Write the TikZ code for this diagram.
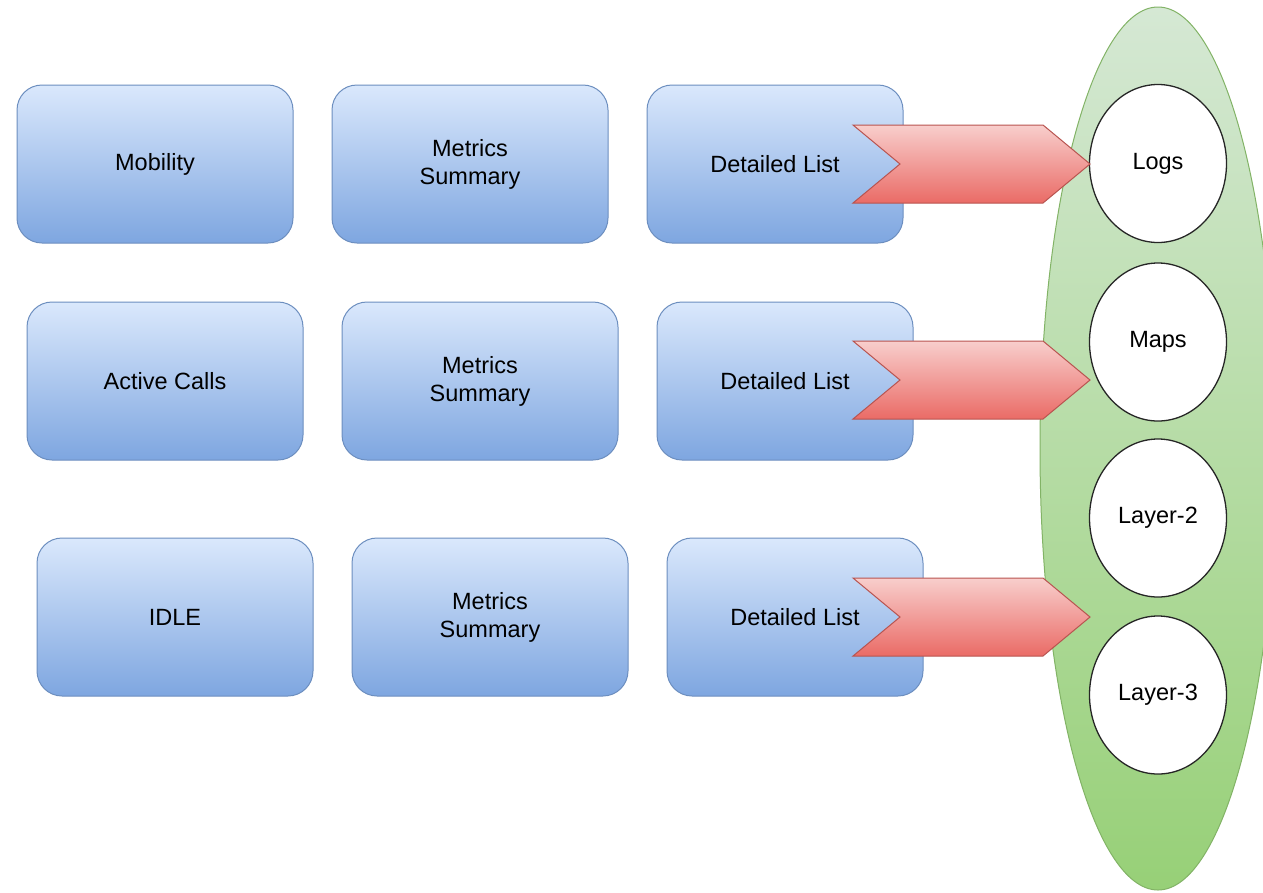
\documentclass[tikz,border=0pt]{standalone}
\usepackage{fontspec}
\setmainfont{Liberation Sans}
\usetikzlibrary{shapes.geometric}
\definecolor{boxtop}{HTML}{DAE8FC}
\definecolor{boxbot}{HTML}{7EA6E0}
\definecolor{boxline}{HTML}{6C8EBF}
\definecolor{arrtop}{HTML}{F8CECC}
\definecolor{arrbot}{HTML}{EA6B66}
\definecolor{arrline}{HTML}{B85450}
\definecolor{elltop}{HTML}{D5E8D4}
\definecolor{ellbot}{HTML}{97D077}
\definecolor{ellline}{HTML}{82B366}
\begin{document}
\begin{tikzpicture}[x=1pt,y=-1pt,
  txt/.style={font=\fontsize{23.5}{28}\selectfont, align=center},
  box/.style={txt, draw=boxline, line width=1pt, rounded corners=25pt,
    top color=boxtop, bottom color=boxbot, minimum width=276pt,
    minimum height=158pt, inner sep=0pt},
  dlbox/.style={box, minimum width=256pt},
  bigell/.style={ellipse, draw=ellline, line width=1pt, top color=elltop,
    bottom color=ellbot, minimum width=236pt, minimum height=883pt, inner sep=0pt},
  circ/.style={txt, ellipse, draw=black!85, line width=1.3pt, fill=white,
    minimum width=137pt, minimum height=158pt, inner sep=0pt},
  chev/.style={draw=arrline, line width=1pt, top color=arrtop, bottom color=arrbot}
]
\useasboundingbox (0,0) rectangle (1263,892);

% boxes
\node[box] (mob) at (155,164) {Mobility};
\node[box] (ms1) at (470,164) {Metrics\\Summary};
\node[dlbox] (dl1) at (775,164) {Detailed List};
\node[box] (act) at (165,381) {Active Calls};
\node[box] (ms2) at (480,381) {Metrics\\Summary};
\node[dlbox] (dl2) at (785,381) {Detailed List};
\node[box] (idle) at (175,617) {IDLE};
\node[box] (ms3) at (490,617) {Metrics\\Summary};
\node[dlbox] (dl3) at (795,617) {Detailed List};

% big ellipse
\node[bigell] (grp) at (1158,448.5) {};

% circles
\node[circ] (logs) at (1158,163.5) {Logs};
\node[circ] (maps) at (1158,342) {Maps};
\node[circ] (l2) at (1158,518) {Layer-2};
\node[circ] (l3) at (1158,695) {Layer-3};

% chevron arrows
\foreach \c in {164,380,617}{
  \path[chev] (853,\c-39) -- (1043,\c-39) -- (1090,\c) -- (1043,\c+39)
    -- (853,\c+39) -- (900,\c) -- cycle;
}
\end{tikzpicture}
\end{document}
